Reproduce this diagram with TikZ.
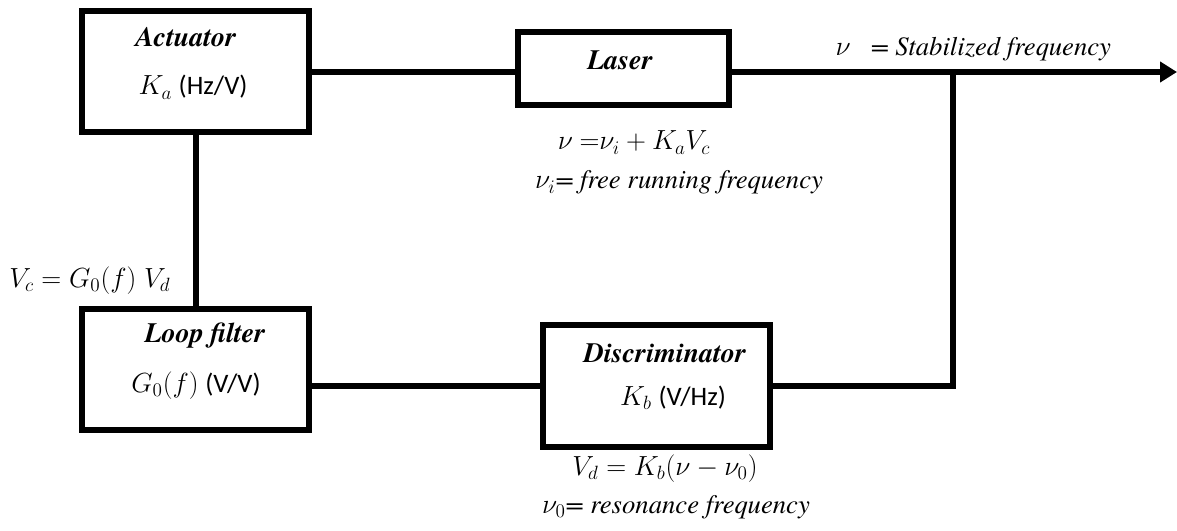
\documentclass[tikz,border=0pt]{standalone}
\usepackage{fontspec}
\setmainfont{texgyretermes}[
    Extension=.otf,
    UprightFont=*-regular,
    BoldFont=*-bold,
    ItalicFont=*-italic,
    BoldItalicFont=*-bolditalic]
\newfontfamily\unitfont{Carlito}
\usetikzlibrary{arrows.meta}

\begin{document}
\begin{tikzpicture}[
    x=0.75pt, y=-0.75pt,
    block/.style={draw, line width=4.5pt, inner sep=0pt, minimum width=170.25pt, minimum height=90.75pt},
    wire/.style={line width=4.5pt},
    title/.style={anchor=base, font=\fontsize{21}{25}\selectfont\bfseries\itshape},
    eq/.style={anchor=base, font=\fontsize{20}{24}\selectfont}
]
    \useasboundingbox (0,0) rectangle (1177,531);

    % Блоки (координаты в пикселях исходной картинки)
    \node[block] (act) at (195.5, 72) {};
    \node[block, minimum width=158.25pt, minimum height=54.75pt] (las) at (623.5, 68.5) {};
    \node[block] (lf) at (195.5, 369.5) {};
    \node[block, minimum height=91.5pt] (disc) at (656.5, 386) {};

    % Точки ответвления и выхода
    \coordinate (tap) at (953, 72);
    \coordinate (out) at (1177, 72);

    % Соединения
    \draw[wire] (act.east) -- (act.east -| las.west);
    \draw[wire] (act.south) -- (lf.north);
    \draw[wire] (disc.west) -- (disc.west -| lf.east);
    \draw[wire] (disc.east) -| (tap);
    \draw[wire, -{Triangle[length=12.75pt, width=15pt]}] (las.east |- tap) -- (out);

    % Подписи внутри блоков
    \node[title] at (186, 47) {Actuator};
    \node[eq] at (193, 95) {$K_a$ {\unitfont(Hz/V)}};
    \node[title] at (620, 70) {Laser};
    \node[title] at (205, 342) {Loop filter};
    \node[eq] at (196, 392) {$G_0(f)$ {\unitfont(V/V)}};
    \node[title] at (665, 362) {Discriminator};
    \node[eq] at (673, 405) {$K_b$ {\unitfont(V/Hz)}};

    % Формулы рядом с блоками
    \node[eq, anchor=base west] at (831, 56) {$\nu$\hspace{15pt}\textit{= Stabilized frequency}};
    \node[eq] at (634, 150) {$\nu\ {=}\nu_i + K_aV_c$};
    \node[eq] at (679, 189) {$\nu_i$\textit{= free running frequency}};
    \node[eq, anchor=base east] at (175, 287) {$V_c = G_0(f)\;V_d$};
    \node[eq] at (665, 475) {$V_d = K_b(\nu - \nu_0)$};
    \node[eq] at (676, 513) {$\nu_0$\textit{= resonance frequency}};
\end{tikzpicture}
\end{document}
